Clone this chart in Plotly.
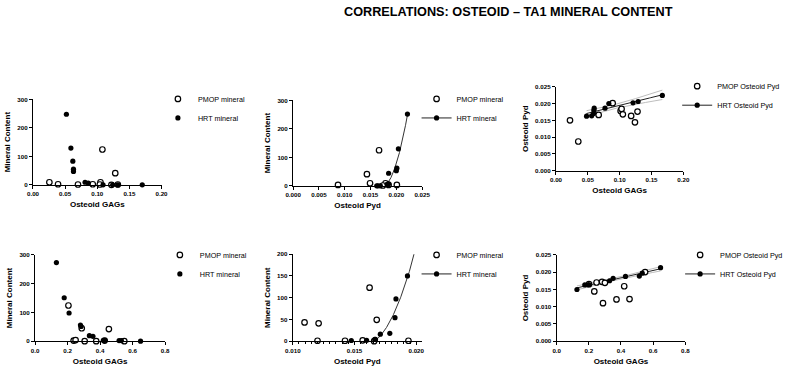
import numpy as np
import plotly.graph_objects as go

W, H = 791, 369

# ---------------- data ----------------
# Panel 1: Osteoid GAGs vs Mineral content (top)
p1_pmop_x = [0.0255, 0.039, 0.070, 0.093, 0.105, 0.104, 0.108, 0.122, 0.128, 0.132]
p1_pmop_y = [9, 2, 1, 2, 9, 1, 124, 0, 41, 1]
p1_hrt_x = [0.052, 0.059, 0.062, 0.063, 0.063, 0.081, 0.086, 0.109, 0.124, 0.132, 0.170]
p1_hrt_y = [248, 129, 83, 55, 47, 9, 6, 0, 0, 0, 0]

# Panel 2: Osteoid Pyd vs Mineral content (top)
p2_pmop_x = [0.0087, 0.0143, 0.0149, 0.01665, 0.0179, 0.0185, 0.0201, 0.0174]
p2_pmop_y = [3, 41, 9, 125, 9, 3, 3, 1]
p2_hrt_x = [0.0162, 0.01645, 0.0169, 0.0182, 0.0185, 0.0185, 0.0200, 0.0201, 0.0204, 0.02215]
p2_hrt_y = [0, 0, 0, 5, 7, 44, 53, 62, 130, 252]

# Panel 3: Osteoid GAGs vs Osteoid Pyd (top)
p3_pmop_x = [0.022, 0.035, 0.067, 0.089, 0.1015, 0.103, 0.105, 0.118, 0.124, 0.128]
p3_pmop_y = [0.0150, 0.0087, 0.0166, 0.0201, 0.0178, 0.0184, 0.0168, 0.0163, 0.0144, 0.0176]
p3_hrt_x = [0.048, 0.056, 0.059, 0.0595, 0.060, 0.077, 0.083, 0.121, 0.129, 0.167]
p3_hrt_y = [0.01625, 0.01634, 0.0170, 0.0180, 0.0186, 0.0186, 0.0200, 0.0202, 0.0206, 0.0224]

# Panel 4: Osteoid GAGs vs Mineral content (bottom)
p4_pmop_x = [0.205, 0.237, 0.249, 0.287, 0.305, 0.376, 0.428, 0.454, 0.549]
p4_pmop_y = [124, 2, 4, 45, 0, 0, 2, 42, 0]
p4_hrt_x = [0.131, 0.179, 0.209, 0.279, 0.283, 0.334, 0.356, 0.420, 0.430, 0.517, 0.531, 0.649]
p4_hrt_y = [273, 151, 98, 56, 51, 19, 17, 3, 3, 2, 2, 0]

# Panel 5: Osteoid Pyd vs Mineral content (bottom)
p5_pmop_x = [0.01095, 0.01209, 0.0120, 0.01423, 0.01566, 0.01622, 0.0168, 0.01659, 0.01937]
p5_pmop_y = [43, 41, 1, 1, 2, 123, 49, 0, 1]
p5_hrt_x = [0.01474, 0.01598, 0.01664, 0.0167, 0.01709, 0.01786, 0.01828, 0.01836, 0.01929]
p5_hrt_y = [1.5, 2, 4, 4, 16, 18, 54, 97, 150]

# Panel 6: Osteoid GAGs vs Osteoid Pyd (bottom)
p6_pmop_x = [0.201, 0.234, 0.248, 0.282, 0.288, 0.300, 0.372, 0.420, 0.453, 0.550]
p6_pmop_y = [0.0165, 0.0144, 0.0170, 0.0172, 0.0110, 0.0169, 0.0121, 0.0159, 0.0122, 0.0200]
p6_hrt_x = [0.126, 0.175, 0.199, 0.329, 0.351, 0.428, 0.514, 0.532, 0.646]
p6_hrt_y = [0.01496, 0.01629, 0.0164, 0.0175, 0.0182, 0.01875, 0.01884, 0.0197, 0.0213]

title_text = "CORRELATIONS: OSTEOID \u2013 TA1 MINERAL CONTENT"

# ---------------- helpers ----------------
FONT = "Liberation Sans, Arial, sans-serif"
T975 = {5: 2.571, 6: 2.447, 7: 2.365, 8: 2.306, 9: 2.262, 10: 2.228, 11: 2.201}


def linfit_ci(x, y, n=120):
    x = np.asarray(x, float)
    y = np.asarray(y, float)
    b, a = np.polyfit(x, y, 1)
    xs = np.linspace(x.min(), x.max(), n)
    ys = a + b * xs
    resid = y - (a + b * x)
    df = len(x) - 2
    s = np.sqrt(np.sum(resid ** 2) / df)
    sxx = np.sum((x - x.mean()) ** 2)
    se = s * np.sqrt(1.0 / len(x) + (xs - x.mean()) ** 2 / sxx)
    t = T975[df]
    return xs, ys, ys - t * se, ys + t * se


def quadfit(x, y, lo, hi, n=200):
    c = np.polyfit(np.asarray(x, float), np.asarray(y, float), 2)
    xs = np.linspace(lo, hi, n)
    ys = np.polyval(c, xs)
    vx = -c[1] / (2 * c[0])
    keep = xs >= vx
    return xs[keep], ys[keep]


def xd(a, b):
    return [a / W, b / W]


def yd(top, bottom):
    return [1 - bottom / H, 1 - top / H]


fig = go.Figure()

open_marker = dict(symbol="circle", size=5.5, color="white", line=dict(color="black", width=1.2))
fill_marker = dict(symbol="circle", size=5.2, color="black", line=dict(color="black", width=0))

panels = [
    (p1_pmop_x, p1_pmop_y, p1_hrt_x, p1_hrt_y, "PMOP mineral", "HRT mineral", None),
    (p2_pmop_x, p2_pmop_y, p2_hrt_x, p2_hrt_y, "PMOP mineral", "HRT mineral", "quad"),
    (p3_pmop_x, p3_pmop_y, p3_hrt_x, p3_hrt_y, "PMOP Osteoid Pyd", "HRT Osteoid Pyd", "lin"),
    (p4_pmop_x, p4_pmop_y, p4_hrt_x, p4_hrt_y, "PMOP mineral", "HRT mineral", None),
    (p5_pmop_x, p5_pmop_y, p5_hrt_x, p5_hrt_y, "PMOP mineral", "HRT mineral", "quad"),
    (p6_pmop_x, p6_pmop_y, p6_hrt_x, p6_hrt_y, "PMOP Osteoid Pyd", "HRT Osteoid Pyd", "lin"),
]

xranges = [[0, 0.2], [0, 0.025], [0, 0.2], [0, 0.8], [0.010, 0.02045], [0, 0.8]]
yranges = [[0, 300], [0, 300], [0, 0.025], [0, 300], [0, 200], [0, 0.025]]
xdtick = [0.05, 0.005, 0.05, 0.2, 0.005, 0.2]
ydtick = [100, 100, 0.005, 100, 50, 0.005]
xfmt = [".2f", ".3f", ".2f", ".1f", ".3f", ".1f"]
yfmt = ["d", "d", ".3f", "d", "d", ".3f"]
xtitles = ["Osteoid GAGs", "Osteoid Pyd", "Osteoid GAGs", "Osteoid GAGs", "Osteoid Pyd", "Osteoid GAGs"]
ytitles = ["Mineral Content", "Mineral Content", "Osteoid Pyd", "Mineral Content", "Mineral Content", "Osteoid Pyd"]
xdoms = [xd(25.5, 156.7), xd(291, 422.7), xd(559.3, 689.3), xd(27.7, 160.3), xd(290.7, 422.3), xd(560, 691.3)]
ydoms = [yd(97.3, 184.3), yd(98.3, 185.3), yd(84.3, 170), yd(255.7, 343.7), yd(255, 343.7), yd(255.7, 343.7)]
# legend: (left px, top px)
leg_pos = [(153, 82), (417, 82), (683, 69), (155, 241), (417, 241), (686, 241)]

for i, (px, py, hx, hy, pn, hn, fit) in enumerate(panels):
    k = i + 1
    xa = "x" if k == 1 else f"x{k}"
    ya = "y" if k == 1 else f"y{k}"
    lg = "legend" if k == 1 else f"legend{k}"

    if fit == "lin":
        xs, ys, lo, hi = linfit_ci(hx, hy)
        for band in (lo, hi):
            fig.add_trace(go.Scatter(x=xs, y=band, mode="lines", xaxis=xa, yaxis=ya,
                                     line=dict(color="#b5b5b5", width=0.9),
                                     showlegend=False, hoverinfo="skip"))
        fig.add_trace(go.Scatter(x=xs, y=ys, mode="lines", xaxis=xa, yaxis=ya,
                                 line=dict(color="#222222", width=1),
                                 showlegend=False, hoverinfo="skip"))
    elif fit == "quad":
        hi_x = max(hx) if k == 2 else xranges[i][1]
        xs, ys = quadfit(hx, hy, min(hx), hi_x)
        fig.add_trace(go.Scatter(x=xs, y=ys, mode="lines", xaxis=xa, yaxis=ya,
                                 line=dict(color="#333333", width=1),
                                 showlegend=False, hoverinfo="skip"))

    fig.add_trace(go.Scatter(x=px, y=py, mode="markers", name=pn, xaxis=xa, yaxis=ya,
                             marker=open_marker, cliponaxis=False, legend=lg))
    if fit is None:
        fig.add_trace(go.Scatter(x=hx, y=hy, mode="markers", name=hn, xaxis=xa, yaxis=ya,
                                 marker=fill_marker, cliponaxis=False, legend=lg))
    else:
        fig.add_trace(go.Scatter(x=hx, y=hy, mode="markers", name=hn, xaxis=xa, yaxis=ya,
                                 marker=fill_marker, cliponaxis=False, showlegend=False))
        fig.add_trace(go.Scatter(x=[None], y=[None], mode="lines+markers", name=hn,
                                 xaxis=xa, yaxis=ya, marker=fill_marker,
                                 line=dict(color="#222222", width=1), legend=lg))

    axis_common = dict(showline=True, linecolor="black", linewidth=1.3, ticks="outside",
                       ticklen=3, tickwidth=1.2, tickcolor="black", showgrid=False,
                       zeroline=False, tickfont=dict(family=FONT, size=6.2, color="black", weight="bold"))
    xkw = dict(axis_common, domain=xdoms[i], range=xranges[i], dtick=xdtick[i], tick0=xranges[i][0],
               tickformat=xfmt[i], anchor=ya,
               title=dict(text=xtitles[i], standoff=5,
                          font=dict(family=FONT, size=8, color="black", weight="bold")))
    if k == 5:
        xkw["minor"] = dict(ticks="outside", dtick=0.0005, ticklen=2, tickwidth=1, tickcolor="black")
    ykw = dict(axis_common, domain=ydoms[i], range=yranges[i], dtick=ydtick[i], tick0=0,
               tickformat=yfmt[i], anchor=xa,
               title=dict(text=ytitles[i], standoff=5,
                          font=dict(family=FONT, size=8, color="black", weight="bold")))
    fig.layout[("xaxis" if k == 1 else f"xaxis{k}")] = xkw
    fig.layout[("yaxis" if k == 1 else f"yaxis{k}")] = ykw
    lx, ly = leg_pos[i]
    fig.layout[lg] = dict(x=lx / W, y=1 - ly / H, xanchor="left", yanchor="top",
                          bgcolor="rgba(0,0,0,0)", borderwidth=0,
                          font=dict(family=FONT, size=7.2, color="black"),
                          tracegroupgap=0)

fig.add_annotation(text=title_text, x=511 / W, y=1 - 8 / H, xref="paper", yref="paper",
                   showarrow=False, xanchor="center", yanchor="middle",
                   font=dict(family=FONT, size=12.7, color="black", weight="bold"))

fig.update_layout(width=W, height=H, margin=dict(l=0, r=0, t=0, b=0),
                  paper_bgcolor="white", plot_bgcolor="white")

fig.write_html("out.html", config={"displayModeBar": False},
               post_script="document.body.style.margin='0px';document.body.style.overflow='hidden';")
